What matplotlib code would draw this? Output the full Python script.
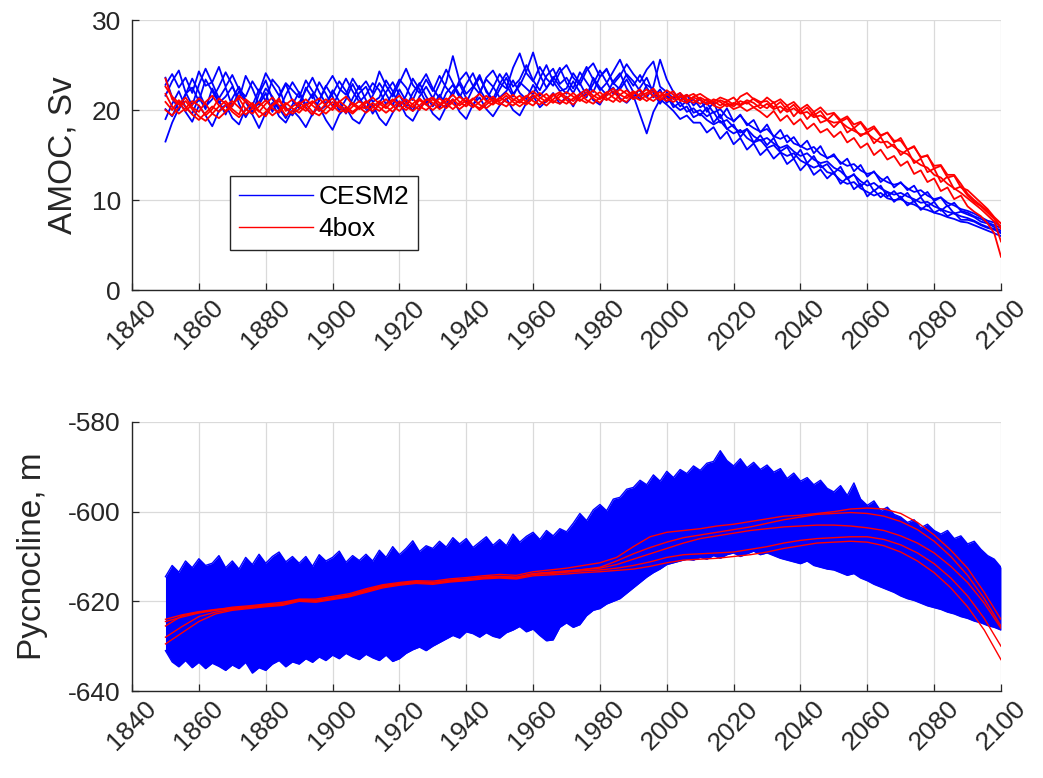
import numpy as np
import matplotlib
matplotlib.use('Agg')
import matplotlib.pyplot as plt

plt.rcParams['font.family'] = ['Liberation Sans', 'DejaVu Sans']
plt.rcParams['axes.unicode_minus'] = False

# AMOC ensembles, every 2 years 1850-2100 (Sv)
years = np.arange(1850, 2101, 2)

cesm_amoc_1 = [16.5, 18.6, 20.2, 21.8, 22.5, 21.0, 23.4, 22.1, 20.8, 21.5,
               22.6, 21.2, 23.8, 22.4, 20.6, 21.9, 19.8, 21.4, 22.9, 21.0,
               20.2, 22.5, 21.3, 23.1, 21.8, 20.4, 22.0, 23.5, 22.1, 20.9,
               21.7, 23.0, 22.2, 20.6, 21.9, 23.4, 22.5, 21.1, 22.8, 24.0,
               22.4, 21.3, 23.1, 26.0, 23.2, 21.8, 22.6, 23.9, 22.0, 21.2,
               22.9, 24.1, 22.6, 23.4, 25.0, 23.3, 22.2, 23.8, 24.6, 22.9,
               23.6, 22.4, 24.2, 23.1, 22.0, 23.7, 24.5, 23.0, 22.3, 23.4,
               22.0, 21.2, 22.8, 22.3, 21.0, 21.6, 20.3, 20.9, 19.8, 20.2,
               19.4, 20.3, 18.6, 19.5, 17.9, 18.4, 17.0, 17.9, 16.4, 17.2,
               16.1, 16.9, 15.4, 15.9, 14.6, 15.6, 14.1, 14.9, 13.6, 14.0,
               13.0, 13.7, 12.3, 12.9, 11.5, 12.2, 11.0, 11.6, 10.4, 11.0,
               10.2, 10.8, 9.8, 10.3, 9.3, 9.8, 8.8, 9.4, 8.5, 8.7,
               8.4, 8.1, 7.6, 7.4, 7.0, 6.6]
cesm_amoc_2 = [22.8, 24.0, 22.5, 23.6, 21.9, 24.3, 22.7, 23.1, 24.8, 22.6,
               23.9, 22.3, 21.5, 23.2, 22.0, 24.1, 22.8, 21.6, 23.0, 22.2,
               21.4, 23.3, 22.1, 21.0, 22.6, 23.8, 22.4, 21.7, 23.5, 22.3,
               23.2, 21.9, 24.3, 22.7, 21.5, 23.0, 24.6, 22.8, 21.9, 23.4,
               22.1, 23.8, 22.5, 21.6, 23.3, 24.2, 22.7, 21.8, 23.6, 24.4,
               23.0, 22.4, 24.7, 26.3, 24.1, 23.2, 24.8, 23.5, 22.7, 24.2,
               25.0, 23.6, 22.8, 24.4, 25.2, 23.7, 24.6, 22.9, 23.8, 25.1,
               24.0, 23.1, 24.5, 25.4, 22.6, 22.0, 21.3, 21.9, 20.7, 21.2,
               20.3, 20.8, 19.7, 20.1, 19.2, 18.8, 19.4, 18.5, 18.0, 17.6,
               17.9, 17.1, 16.8, 17.2, 16.3, 16.0, 15.6, 15.9, 15.1, 14.7,
               14.9, 14.2, 13.8, 14.0, 13.3, 12.9, 13.1, 12.4, 12.0, 11.7,
               11.9, 11.3, 10.9, 11.1, 10.5, 10.1, 10.3, 9.7, 9.4, 9.0,
               8.8, 8.5, 8.1, 7.7, 7.5, 7.1]
cesm_amoc_3 = [20.1, 19.3, 21.0, 19.8, 18.7, 20.5, 19.4, 18.2, 19.9, 20.6,
               19.1, 18.4, 20.2, 19.5, 18.0, 19.7, 20.8, 19.3, 18.6, 20.0,
               19.2, 18.1, 19.6, 20.4, 18.9, 17.8, 19.5, 20.3, 19.0, 18.5,
               19.8, 20.6, 19.1, 18.3, 19.7, 20.9, 19.4, 18.8, 20.2, 21.0,
               19.6, 18.9, 20.4, 21.2, 19.8, 19.0, 20.6, 21.4, 20.1, 19.3,
               20.5, 21.3, 20.0, 19.4, 20.8, 21.6, 20.3, 21.0, 21.9, 20.7,
               21.5, 20.4, 21.8, 22.3, 21.1, 20.6, 21.9, 22.5, 21.3, 20.8,
               21.6, 19.5, 17.4, 19.8, 21.2, 20.6, 19.9, 19.0, 19.4, 18.6,
               18.6, 17.5, 18.1, 16.8, 17.6, 16.2, 16.9, 15.6, 16.3, 15.0,
               15.7, 14.6, 15.3, 14.0, 14.6, 13.3, 14.1, 12.8, 13.4, 12.4,
               13.1, 11.8, 12.5, 11.2, 11.8, 10.4, 11.1, 10.3, 10.9, 9.8,
               10.4, 9.4, 9.9, 8.9, 9.5, 8.6, 9.0, 8.2, 8.6, 7.8,
               7.8, 7.6, 7.2, 6.9, 6.7, 6.3]
cesm_amoc_4 = [21.6, 23.2, 24.4, 22.0, 20.5, 22.8, 24.6, 23.0, 21.3, 22.5,
               20.4, 22.1, 20.9, 19.6, 21.8, 23.3, 21.2, 20.0, 21.7, 23.1,
               21.9, 20.3, 19.4, 21.1, 22.7, 21.5, 19.9, 21.2, 22.9, 21.4,
               20.1, 21.6, 23.0, 21.8, 20.5, 22.3, 21.0, 19.9, 21.5, 22.6,
               21.3, 22.9, 24.5, 23.0, 21.7, 20.8, 22.4, 23.6, 22.2, 20.9,
               22.3, 23.6, 21.8, 22.7, 24.3, 26.4, 23.9, 22.5, 23.4, 24.7,
               23.0, 21.9, 23.3, 24.8, 23.4, 22.2, 23.0, 24.3, 25.6, 23.8,
               22.7, 23.9, 22.5, 21.4, 22.3, 20.8, 21.5, 20.4, 21.0, 19.7,
               20.0, 19.3, 19.8, 18.6, 18.9, 18.1, 17.5, 17.9, 17.1, 16.6,
               16.9, 16.3, 15.8, 16.1, 15.4, 14.9, 15.2, 14.5, 14.1, 14.3,
               13.6, 13.2, 12.5, 12.8, 12.1, 11.6, 11.9, 11.3, 10.9, 10.6,
               10.8, 10.4, 10.1, 9.7, 9.8, 9.3, 9.0, 8.7, 8.5, 8.2,
               8.0, 7.7, 7.3, 7.0, 6.8, 6.4]
cesm_amoc_5 = [23.6, 21.4, 20.0, 21.7, 23.5, 22.0, 20.4, 21.2, 22.6, 24.2,
               22.8, 20.7, 19.2, 20.5, 22.3, 21.0, 23.4, 22.5, 20.3, 19.4,
               20.8, 22.2, 23.6, 22.0, 20.7, 21.8, 23.2, 22.1, 20.6, 21.9,
               22.6, 20.9, 21.4, 23.3, 22.1, 20.4, 21.6, 23.5, 22.3, 20.8,
               21.5, 20.2, 21.9, 22.8, 21.4, 22.9, 24.1, 22.3, 21.1, 22.5,
               24.0, 22.8, 21.5, 23.1, 22.4, 21.7, 23.5, 25.0, 23.2, 22.1,
               22.4, 24.1, 23.0, 21.6, 22.9, 24.4, 23.1, 21.8, 22.6, 24.0,
               23.2, 22.1, 21.4, 22.6, 25.6, 23.4, 22.0, 21.1, 21.7, 20.5,
               21.3, 19.8, 20.9, 19.1, 20.2, 18.7, 19.5, 18.3, 18.9, 17.5,
               18.4, 17.0, 17.8, 16.4, 17.0, 15.9, 16.6, 15.2, 16.0, 14.6,
               15.1, 14.0, 14.6, 13.2, 13.9, 12.6, 13.2, 12.0, 12.6, 11.4,
               12.0, 11.1, 11.6, 10.4, 10.9, 9.9, 10.3, 9.3, 9.7, 8.8,
               8.6, 8.2, 7.9, 7.5, 7.2, 6.9]
cesm_amoc_6 = [19.0, 20.7, 22.1, 20.3, 19.6, 21.4, 20.1, 22.4, 21.0, 19.5,
               21.3, 22.6, 21.1, 19.8, 20.9, 22.4, 21.5, 20.2, 19.1, 20.6,
               22.0, 20.6, 21.8, 19.9, 20.5, 22.2, 21.0, 19.6, 21.3, 22.7,
               21.1, 19.6, 20.8, 22.0, 23.1, 21.7, 20.3, 21.9, 23.0, 21.5,
               20.4, 21.7, 20.6, 22.1, 22.9, 21.3, 20.5, 22.0, 23.4, 22.6,
               21.4, 22.1, 23.3, 21.9, 21.2, 22.8, 21.6, 22.4, 23.7, 22.6,
               21.8, 23.2, 22.0, 21.4, 23.6, 22.5, 21.7, 23.2, 24.1, 22.4,
               21.3, 22.5, 23.6, 21.9, 20.7, 21.9, 20.6, 20.0, 20.4, 19.2,
               19.6, 18.9, 18.4, 18.8, 17.9, 17.4, 17.8, 16.9, 16.4, 16.7,
               15.8, 16.1, 15.3, 14.9, 15.2, 14.4, 14.0, 13.6, 13.9, 13.1,
               12.9, 12.2, 11.8, 12.0, 11.3, 10.9, 10.5, 10.8, 10.2, 10.0,
               10.1, 9.7, 9.5, 9.1, 8.9, 8.6, 8.4, 8.1, 7.9, 7.6,
               7.5, 7.2, 6.9, 6.6, 6.3, 6.0]

box_amoc_1 = [23.5, 21.2, 20.6, 21.4, 20.3, 19.8, 20.9, 21.6, 20.5, 19.9,
              20.7, 21.3, 20.1, 19.6, 20.4, 21.1, 20.2, 19.7, 20.6, 21.2,
              20.4, 19.9, 20.8, 21.3, 20.5, 20.0, 20.9, 21.5, 20.6, 20.1,
              20.8, 21.4, 20.7, 20.2, 21.0, 21.6, 20.8, 20.3, 21.1, 20.6,
              21.2, 20.5, 21.0, 21.7, 20.9, 20.4, 21.2, 21.8, 21.0, 20.6,
              21.3, 21.9, 21.2, 20.8, 21.5, 22.1, 21.4, 20.9, 21.6, 22.0,
              21.4, 21.0, 21.8, 22.3, 21.6, 21.2, 21.9, 22.4, 21.7, 21.3,
              22.0, 21.6, 21.9, 22.4, 21.5, 21.8, 21.2, 21.6, 21.0, 21.4,
              21.1, 20.7, 21.2, 20.9, 20.4, 20.8, 20.5, 20.9, 20.3, 20.6,
              20.2, 20.9, 19.7, 20.5, 19.3, 20.1, 19.0, 19.8, 18.6, 18.9,
              18.1, 18.8, 17.5, 18.0, 17.1, 17.6, 16.3, 17.0, 15.8, 16.2,
              15.0, 15.6, 14.1, 14.6, 13.1, 13.5, 12.0, 12.6, 11.2, 11.5,
              10.5, 9.8, 9.3, 8.6, 7.9, 6.8]
box_amoc_2 = [21.8, 20.4, 19.6, 20.2, 21.0, 20.5, 19.4, 20.1, 21.3, 20.7,
              19.8, 19.2, 20.0, 20.8, 19.9, 19.3, 20.5, 21.0, 20.2, 19.6,
              20.1, 20.7, 19.8, 19.4, 20.2, 20.9, 20.3, 19.7, 20.4, 21.0,
              20.4, 19.9, 20.6, 21.2, 20.5, 19.9, 20.7, 21.3, 20.4, 20.0,
              20.6, 21.3, 20.7, 20.1, 20.8, 21.4, 20.6, 20.2, 20.9, 21.5,
              20.8, 20.4, 21.1, 21.6, 20.9, 20.5, 21.3, 21.8, 21.0, 20.7,
              21.3, 21.9, 21.2, 20.8, 21.5, 22.0, 21.3, 20.9, 21.7, 22.2,
              21.5, 21.1, 21.7, 22.1, 21.4, 21.0, 21.5, 21.9, 21.2, 20.8,
              21.4, 21.0, 20.6, 21.1, 20.8, 20.4, 21.0, 20.7, 21.3, 20.9,
              21.0, 20.3, 20.9, 20.0, 20.6, 19.7, 20.3, 19.4, 19.9, 18.9,
              19.6, 18.7, 19.1, 18.0, 18.6, 17.5, 18.0, 17.1, 17.5, 16.4,
              16.9, 15.6, 16.0, 14.7, 15.0, 13.5, 13.8, 12.5, 12.7, 11.4,
              11.1, 10.4, 9.7, 9.0, 8.1, 7.4]
box_amoc_3 = [20.9, 20.0, 21.1, 20.4, 19.5, 18.9, 19.7, 20.4, 19.8, 20.5,
              21.0, 20.3, 19.5, 20.2, 20.9, 20.1, 19.4, 20.0, 20.8, 20.2,
              19.7, 20.5, 21.0, 20.2, 19.6, 20.3, 21.0, 20.4, 19.8, 20.4,
              21.0, 20.4, 19.9, 20.6, 21.2, 20.5, 20.0, 20.7, 21.3, 20.6,
              20.0, 20.6, 21.3, 20.7, 20.1, 20.7, 21.3, 20.6, 20.2, 20.8,
              21.4, 20.9, 20.5, 21.1, 21.6, 21.0, 20.6, 21.2, 21.8, 21.1,
              20.7, 21.3, 21.8, 21.1, 20.7, 21.4, 22.0, 21.4, 20.9, 21.6,
              22.1, 21.5, 21.0, 21.6, 22.0, 21.3, 20.9, 21.4, 21.7, 21.1,
              20.7, 21.2, 20.5, 20.2, 20.7, 20.1, 20.4, 19.9, 20.3, 19.8,
              19.2, 19.9, 18.8, 19.4, 18.4, 19.0, 17.9, 18.5, 17.5, 17.9,
              17.0, 17.6, 16.4, 16.9, 15.8, 16.3, 15.0, 15.6, 14.5, 14.9,
              13.8, 14.3, 12.9, 13.3, 12.0, 12.4, 11.0, 11.4, 10.1, 10.5,
              9.3, 8.7, 8.2, 7.4, 6.3, 3.7]
box_amoc_4 = [22.6, 21.5, 20.8, 19.9, 20.6, 21.3, 20.7, 19.6, 19.1, 19.8,
              20.5, 21.6, 20.9, 20.3, 19.2, 19.8, 20.6, 21.3, 19.9, 20.4,
              20.9, 20.2, 19.5, 20.6, 21.2, 20.5, 19.8, 20.0, 20.8, 20.3,
              19.7, 20.3, 21.0, 20.4, 19.8, 20.6, 21.2, 20.6, 20.0, 21.1,
              21.4, 20.8, 20.2, 20.9, 21.5, 20.8, 20.3, 20.9, 21.6, 21.0,
              20.6, 21.2, 21.7, 21.0, 20.6, 21.3, 21.9, 21.3, 20.8, 21.5,
              22.0, 21.5, 21.0, 21.6, 22.2, 21.5, 21.1, 21.7, 22.3, 21.8,
              21.2, 21.8, 22.3, 21.6, 21.1, 21.7, 22.1, 21.0, 21.5, 21.8,
              21.2, 20.6, 21.0, 20.5, 21.0, 21.4, 20.6, 21.1, 20.8, 20.2,
              20.7, 20.1, 20.4, 19.8, 20.2, 19.6, 19.8, 19.2, 19.4, 18.9,
              18.6, 18.7, 18.1, 17.7, 17.3, 17.4, 16.8, 16.4, 16.5, 15.9,
              15.4, 15.1, 14.4, 13.9, 13.6, 12.8, 12.5, 11.8, 11.3, 10.8,
              10.2, 9.6, 9.0, 8.3, 7.6, 5.4]
box_amoc_5 = [20.0, 19.4, 20.3, 21.0, 20.1, 19.3, 18.8, 19.6, 20.4, 21.0,
              20.1, 19.5, 21.2, 20.6, 19.8, 20.7, 21.4, 20.5, 19.4, 19.9,
              20.6, 21.2, 20.5, 19.9, 20.7, 21.3, 20.5, 20.1, 19.6, 20.3,
              20.2, 20.8, 20.3, 19.7, 20.3, 21.0, 20.4, 19.9, 20.5, 21.2,
              20.8, 20.1, 20.6, 21.2, 20.5, 21.1, 20.7, 20.0, 20.6, 21.2,
              21.0, 21.6, 20.9, 20.4, 21.0, 21.7, 21.0, 20.5, 21.2, 21.8,
              21.1, 20.6, 21.4, 22.0, 21.3, 20.8, 21.6, 22.1, 21.2, 20.9,
              21.8, 22.3, 21.4, 21.0, 21.6, 22.2, 21.7, 21.1, 20.8, 21.5,
              21.8, 21.3, 20.9, 21.4, 21.1, 20.6, 21.5, 21.9, 21.2, 20.7,
              21.4, 20.8, 21.2, 20.5, 20.9, 20.1, 20.6, 19.8, 20.3, 19.5,
              19.7, 18.9, 19.3, 18.4, 18.7, 17.8, 18.2, 17.2, 17.5, 16.6,
              16.6, 15.6, 15.9, 14.8, 14.9, 13.8, 13.9, 12.8, 12.8, 11.8,
              10.7, 10.0, 9.4, 8.8, 8.0, 7.0]

# CESM2 pycnocline depth: top and bottom of the ensemble band, every 2 years (m)
cesm_pyc_top = [-614.5, -612.0, -613.5, -611.0, -612.5, -610.5, -612.0, -611.5, -609.8, -612.5,
                -611.0, -612.8, -610.2, -611.8, -609.5, -611.5, -610.0, -609.0, -611.2, -610.0,
                -611.5, -610.0, -612.2, -609.6, -611.0, -610.2, -608.8, -611.3, -609.8, -610.9,
                -609.5, -611.0, -608.6, -610.2, -607.8, -609.6, -608.2, -606.5, -608.9, -607.6,
                -608.2, -606.6, -607.9, -605.8, -607.2, -606.0, -608.0, -606.8, -605.6, -607.5,
                -606.2, -607.6, -605.0, -606.8, -605.5, -604.6, -606.2, -604.2, -605.4, -603.8,
                -604.5, -602.6, -600.4, -602.0, -599.6, -598.4, -599.8, -597.2, -596.8, -595.0,
                -594.6, -593.0, -594.0, -591.8, -593.2, -591.0, -592.4, -590.6, -591.5, -589.8,
                -590.8, -589.2, -588.8, -586.4, -588.6, -589.8, -588.2, -590.2, -589.0, -590.6,
                -589.6, -591.2, -590.4, -592.6, -591.4, -593.2, -592.4, -594.0, -593.0, -594.8,
                -595.6, -594.2, -596.4, -593.6, -597.2, -598.6, -597.6, -599.8, -599.0, -600.6,
                -601.2, -602.4, -601.8, -603.6, -602.8, -604.2, -605.0, -604.2, -606.0, -605.4,
                -607.2, -606.6, -608.4, -609.8, -610.6, -612.4]
cesm_pyc_bottom = [-631.0, -633.5, -634.6, -633.2, -634.8, -633.6, -635.0, -633.8, -634.5, -635.4,
                   -634.2, -635.0, -633.6, -636.0, -634.8, -635.4, -634.0, -633.2, -634.6, -633.5,
                   -634.0, -632.8, -633.6, -632.4, -633.2, -632.0, -632.8, -631.6, -632.4, -633.0,
                   -631.8, -632.6, -633.2, -632.0, -633.4, -632.8, -631.6, -630.8, -630.2, -631.0,
                   -630.0, -629.2, -628.4, -627.6, -628.2, -626.8, -627.2, -628.0, -627.0, -627.8,
                   -628.2, -627.0, -626.4, -625.6, -626.8, -626.2, -627.6, -628.8, -628.6, -625.8,
                   -624.8, -625.8, -625.2, -623.2, -622.0, -621.6, -620.6, -620.0, -619.4, -618.2,
                   -617.0, -615.8, -614.6, -613.6, -612.8, -611.8, -611.4, -611.0, -610.6, -610.8,
                   -610.2, -610.6, -609.8, -610.4, -609.6, -609.2, -610.0, -609.4, -608.8, -609.6,
                   -609.2, -609.8, -610.4, -610.8, -611.2, -611.6, -611.0, -612.0, -612.4, -612.8,
                   -613.0, -613.6, -614.2, -613.8, -614.8, -615.4, -616.2, -616.8, -617.4, -618.0,
                   -618.8, -619.4, -619.8, -620.4, -621.0, -621.4, -621.8, -622.4, -622.8, -623.4,
                   -623.8, -624.4, -624.8, -625.4, -625.8, -626.4]

# 4box pycnocline depth, every 5 years (m)
years5 = np.arange(1850, 2101, 5)
box_pyc_1 = [-624.0, -623.0, -622.3, -621.8, -621.5, -621.2, -620.8, -620.5, -619.6, -619.8,
             -619.2, -618.6, -617.5, -616.5, -616.0, -615.6, -615.8, -615.3, -615.0, -614.6,
             -614.4, -614.6, -613.8, -613.5, -613.2, -612.9, -612.6, -611.8, -610.6, -609.4,
             -608.2, -607.0, -606.0, -605.4, -604.8, -604.2, -603.8, -603.4, -603.2, -603.0,
             -603.0, -603.2, -603.6, -604.2, -605.4, -607.0, -609.2, -612.2, -615.8, -620.4,
             -626.0]
box_pyc_2 = [-625.5, -623.2, -622.4, -621.9, -621.3, -621.0, -620.6, -620.2, -619.5, -619.5,
             -618.9, -618.3, -617.2, -616.3, -615.8, -615.4, -615.5, -615.0, -614.7, -614.3,
             -614.0, -614.2, -613.4, -613.0, -612.6, -612.0, -611.4, -610.2, -607.8, -605.6,
             -604.6, -604.2, -603.8, -603.2, -602.8, -602.2, -601.6, -601.0, -600.8, -600.4,
             -600.0, -599.4, -599.2, -599.4, -600.4, -602.4, -605.2, -608.6, -612.6, -618.0,
             -624.0]
box_pyc_3 = [-628.0, -625.6, -623.4, -622.4, -621.8, -621.4, -621.0, -620.7, -619.8, -620.0,
             -619.4, -618.8, -617.8, -616.8, -616.2, -615.8, -616.0, -615.5, -615.2, -614.8,
             -614.6, -614.8, -614.0, -613.8, -613.5, -613.2, -613.0, -612.6, -612.0, -611.2,
             -610.2, -609.6, -609.4, -609.2, -609.0, -608.4, -607.8, -607.0, -606.4, -606.0,
             -605.8, -605.6, -605.6, -606.2, -607.4, -609.2, -611.6, -614.8, -618.8, -623.8,
             -630.0]
box_pyc_4 = [-629.5, -627.0, -624.5, -622.8, -622.0, -621.6, -621.2, -620.9, -620.0, -620.2,
             -619.6, -619.0, -618.0, -617.0, -616.4, -616.0, -616.2, -615.7, -615.4, -615.0,
             -614.8, -615.0, -614.3, -614.1, -613.9, -613.6, -613.4, -613.1, -612.8, -612.2,
             -611.4, -610.8, -610.6, -610.4, -610.0, -609.6, -609.0, -608.2, -607.6, -607.0,
             -606.8, -606.6, -606.8, -607.6, -609.0, -611.0, -613.6, -617.0, -621.2, -626.4,
             -633.0]
box_pyc_5 = [-624.5, -623.5, -622.6, -622.0, -621.6, -621.3, -620.9, -620.6, -619.7, -619.9,
             -619.3, -618.7, -617.6, -616.6, -616.1, -615.7, -615.9, -615.4, -615.1, -614.7,
             -614.5, -614.7, -613.9, -613.6, -613.3, -612.9, -612.4, -611.0, -609.4, -608.0,
             -606.8, -605.8, -605.2, -604.6, -604.0, -603.4, -602.6, -601.8, -601.2, -600.6,
             -600.4, -600.2, -600.4, -601.0, -602.2, -604.0, -606.6, -610.0, -614.2, -619.4,
             -625.5]

cesm_amoc = [cesm_amoc_1, cesm_amoc_2, cesm_amoc_3, cesm_amoc_4, cesm_amoc_5, cesm_amoc_6]
box_amoc = [box_amoc_1, box_amoc_2, box_amoc_3, box_amoc_4, box_amoc_5]
box_pyc = [box_pyc_1, box_pyc_2, box_pyc_3, box_pyc_4, box_pyc_5]

txt = '#262626'


def style_axes(ax, ylim, yticks):
    ax.set_xlim(1840, 2100)
    ax.set_xticks(np.arange(1840, 2101, 20))
    ax.set_ylim(*ylim)
    ax.set_yticks(yticks)
    ax.grid(True, color='#dadada', linewidth=0.9)
    ax.set_axisbelow(True)
    for s in ['top', 'right']:
        ax.spines[s].set_visible(False)
    for s in ['left', 'bottom']:
        ax.spines[s].set_color(txt)
        ax.spines[s].set_linewidth(1.0)
    ax.tick_params(direction='in', length=5, width=0.9, colors=txt, labelsize=19)
    ax.tick_params(axis='y', pad=8)
    ax.tick_params(axis='x', pad=4)
    for lab in ax.get_xticklabels():
        lab.set_rotation(45)
        lab.set_ha('center')


fig = plt.figure(figsize=(10.43, 7.78), dpi=100)

# top panel: AMOC
ax1 = fig.add_axes([0.1266, 0.6272, 0.8331, 0.3470])
for m in cesm_amoc:
    l1, = ax1.plot(years, m, color='b', lw=1.3)
for m in box_amoc:
    l2, = ax1.plot(years, m, color='r', lw=1.3)
style_axes(ax1, (0, 30), [0, 10, 20, 30])
ax1.set_ylabel('AMOC, Sv', fontsize=24, color=txt)
ax1.yaxis.set_label_coords(-0.062, 0.5)
leg = ax1.legend([l1, l2], ['CESM2', '4box'], loc='lower left',
                 bbox_to_anchor=(0.1128, 0.148), borderaxespad=0, fontsize=19,
                 fancybox=False, framealpha=1, edgecolor=txt, handlelength=2.8,
                 handletextpad=0.2, borderpad=0.35, labelspacing=0.3)
leg.get_frame().set_linewidth(1.0)
for h in leg.get_lines():
    h.set_linewidth(1.0)

# bottom panel: pycnocline depth
ax2 = fig.add_axes([0.1266, 0.1118, 0.8331, 0.3458])
ax2.fill_between(years, cesm_pyc_bottom, cesm_pyc_top, color='b', lw=0)
ax2.plot(years, cesm_pyc_top, color='b', lw=1.0)
ax2.plot(years, cesm_pyc_bottom, color='b', lw=1.0)
for m in box_pyc:
    ax2.plot(years5, m, color='r', lw=1.0)
style_axes(ax2, (-640, -580), [-640, -620, -600, -580])
ax2.set_ylabel('Pycnocline, m', fontsize=24, color=txt)
ax2.yaxis.set_label_coords(-0.097, 0.5)

fig.savefig('out.png', dpi=100)
